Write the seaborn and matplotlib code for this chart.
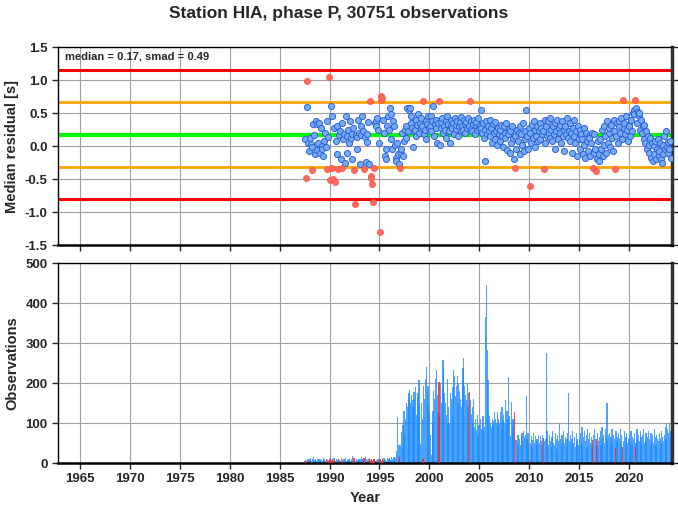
import numpy as np
import matplotlib
matplotlib.use("Agg")
import matplotlib.pyplot as plt
import pandas as pd
import seaborn as sns

# monthly medians of residuals, from 1987-07 to 2024-03
residual = [
    0.10, -0.49, 0.98, 0.59, 0.05, -0.08,  # 1987 (Jul-Dec)
    0.12, 0.03, -0.37, -0.02, 0.33, 0.17, -0.12, 0.38, -0.06, 0.33, 0.04, 0.35,  # 1988
    -0.10, 0.28, 0.00, -0.05, -0.15, 0.07, 0.20, -0.02, -0.35, 0.38, 0.13, 1.04,  # 1989
    -0.51, 0.60, 0.46, -0.33, -0.50, 0.28, -0.55, 0.08, 0.30, -0.12, -0.35, 0.16,  # 1990
    0.22, -0.20, 0.35, -0.33, 0.10, 0.18, -0.25, 0.45, 0.15, -0.10, 0.25, 0.05,  # 1991
    0.38, 0.12, -0.20, 0.18, 0.27, -0.36, -0.88, 0.17, -0.05, 0.14, 0.40, 0.20,  # 1992
    -0.27, 0.16, 0.30, 0.45, 0.22, -0.35, 0.14, -0.24, 0.06, 0.18, 0.37, -0.28,  # 1993
    0.68, -0.46, -0.49, -0.58, -0.85, -0.33, 0.35, 0.38, 0.30, 0.42, 0.25, 0.05,  # 1994
    -1.31, 0.76, 0.70, 0.73, 0.40, 0.20, -0.15, -0.20, -0.05, 0.30, 0.45, 0.25,  # 1995
    0.57, 0.10, 0.48, -0.05, 0.38, 0.30, 0.02, -0.18, -0.22, 0.05, -0.12, -0.28,  # 1996
    -0.34, -0.10, -0.05, 0.20, -0.15, 0.08, 0.25, 0.12, 0.30, 0.57, 0.22, 0.55,  # 1997
    0.57, 0.46, 0.35, 0.28, -0.01, 0.22, 0.25, 0.40, 0.15, 0.32, 0.48, 0.20,  # 1998
    0.35, 0.28, 0.42, 0.30, 0.68, 0.18, 0.25, 0.38, 0.10, 0.33, 0.45, 0.27,  # 1999
    0.30, 0.22, 0.45, 0.38, 0.60, 0.15, 0.33, 0.28, 0.40, 0.05, 0.35, 0.68,  # 2000
    0.02, 0.28, 0.36, 0.42, 0.20, 0.30, 0.25, 0.38, 0.12, 0.45, 0.33, 0.22,  # 2001
    0.05, 0.30, 0.40, 0.28, 0.35, 0.18, 0.42, 0.26, 0.32, 0.38, 0.15, 0.30,  # 2002
    0.36, 0.22, 0.44, 0.30, 0.25, 0.40, 0.33, 0.20, 0.37, 0.28, 0.43, 0.31,  # 2003
    0.68, 0.26, 0.38, 0.22, 0.34, 0.40, 0.18, 0.30, 0.36, 0.24, 0.42, 0.28,  # 2004
    0.30, 0.55, 0.28, 0.20, 0.35, 0.12, 0.25, -0.23, 0.38, 0.18, 0.30, 0.22,  # 2005
    0.40, 0.15, 0.27, 0.05, 0.33, 0.20, 0.10, 0.36, 0.22, 0.02, 0.28, 0.18,  # 2006
    0.25, 0.08, 0.32, 0.15, -0.02, 0.30, 0.20, 0.12, 0.35, -0.06, 0.18, 0.26,  # 2007
    -0.10, 0.22, 0.05, 0.30, 0.12, -0.20, -0.34, 0.15, -0.05, 0.25, 0.08, 0.20,  # 2008
    0.30, -0.12, 0.18, 0.02, 0.35, -0.08, 0.22, 0.10, 0.55, 0.15, -0.05, 0.28,  # 2009
    -0.61, 0.20, 0.05, 0.32, 0.12, 0.38, -0.02, 0.25, 0.15, 0.30, 0.08, 0.22,  # 2010
    0.35, 0.10, 0.28, 0.18, 0.22, -0.35, 0.40, 0.05, 0.30, 0.15, 0.38, 0.20,  # 2011
    0.12, 0.42, 0.25, 0.08, 0.30, 0.18, 0.35, -0.05, 0.22, 0.40, 0.10, 0.28,  # 2012
    0.20, 0.32, 0.05, 0.38, 0.15, 0.25, -0.08, 0.30, 0.18, 0.42, 0.12, 0.22,  # 2013
    0.08, 0.35, 0.20, -0.10, 0.28, 0.15, 0.40, 0.05, 0.22, -0.15, 0.30, 0.10,  # 2014
    0.25, -0.05, 0.18, 0.10, -0.12, 0.28, 0.02, -0.18, 0.20, 0.08, -0.08, 0.15,  # 2015
    0.12, -0.15, 0.05, 0.20, -0.34, -0.10, 0.18, -0.05, -0.38, -0.20, 0.08, -0.12,  # 2016
    -0.22, 0.10, -0.05, 0.25, -0.15, 0.30, 0.02, 0.15, -0.10, 0.38, 0.05, 0.20,  # 2017
    0.28, -0.02, 0.32, 0.12, -0.08, 0.22, 0.40, -0.35, 0.15, 0.35, 0.05, 0.30,  # 2018
    0.38, 0.20, 0.42, 0.10, 0.70, 0.28, 0.35, 0.18, 0.45, 0.25, 0.08, 0.32,  # 2019
    0.30, 0.15, 0.40, 0.22, 0.50, 0.55, 0.48, 0.69, 0.58, 0.35, 0.52, 0.45,  # 2020
    0.50, 0.25, 0.40, 0.20, 0.30, 0.10, 0.32, 0.05, 0.22, -0.05, 0.15, 0.02,  # 2021
    -0.10, 0.12, -0.18, 0.05, -0.22, 0.00, -0.12, 0.08, -0.20, -0.05, 0.10, -0.15,  # 2022
    -0.08, 0.05, -0.20, -0.25, 0.02, -0.12, 0.15, -0.05, 0.22, -0.02, 0.06, -0.10,  # 2023
    -0.05, 0.08, -0.18,  # 2024 (Jan-Mar)
]

# observations per month, same months
observations = [
    5, 8, 6, 10, 4, 9,  # 1987
    7, 12, 5, 9, 14, 6, 8, 11, 4, 10, 7, 9,  # 1988
    6, 10, 8, 5, 12, 7, 9, 4, 11, 8, 6, 5,  # 1989
    9, 14, 7, 10, 6, 12, 8, 5, 11, 7, 9, 6,  # 1990
    8, 5, 12, 7, 10, 4, 9, 13, 6, 8, 11, 7,  # 1991
    10, 6, 9, 18, 8, 12, 7, 5, 10, 8, 6, 11,  # 1992
    7, 9, 15, 10, 6, 12, 8, 14, 9, 7, 11, 6,  # 1993
    12, 8, 10, 6, 9, 11, 7, 5, 8, 10, 6, 9,  # 1994
    8, 10, 6, 9, 5, 12, 10, 8, 5, 12, 8, 10,  # 1995
    12, 8, 15, 10, 6, 14, 10, 12, 30, 116, 20, 45,  # 1996
    16, 45, 78, 40, 95, 130, 70, 110, 150, 140, 160, 175,  # 1997
    183, 150, 170, 158, 140, 178, 160, 190, 120, 165, 175, 207,  # 1998
    140, 47, 150, 110, 10, 192, 160, 210, 241, 180, 192, 150,  # 1999
    125, 70, 20, 103, 130, 180, 160, 210, 233, 170, 125, 203,  # 2000
    118, 200, 150, 190, 258, 233, 175, 150, 120, 210, 100, 140,  # 2001
    100, 175, 160, 120, 190, 233, 217, 167, 192, 217, 150, 200,  # 2002
    180, 160, 140, 210, 237, 263, 192, 170, 158, 200, 140, 175,  # 2003
    178, 158, 122, 140, 100, 160, 90, 110, 83, 120, 67, 95,  # 2004
    95, 110, 85, 100, 118, 83, 90, 366, 445, 283, 207, 120,  # 2005
    118, 100, 90, 110, 95, 105, 127, 110, 100, 127, 95, 110,  # 2006
    100, 127, 85, 140, 105, 120, 100, 158, 95, 130, 110, 216,  # 2007
    117, 67, 153, 90, 110, 100, 128, 58, 58, 50, 70, 42,  # 2008
    60, 45, 67, 75, 55, 80, 65, 70, 167, 60, 75, 50,  # 2009
    5, 50, 67, 42, 58, 75, 50, 67, 55, 60, 45, 70,  # 2010
    50, 67, 55, 45, 70, 62, 55, 60, 274, 80, 60, 45,  # 2011
    70, 55, 40, 65, 80, 50, 45, 75, 60, 35, 70, 55,  # 2012
    100, 60, 45, 70, 55, 80, 50, 65, 40, 60, 75, 174,  # 2013
    55, 70, 45, 60, 80, 50, 65, 40, 75, 55, 60, 45,  # 2014
    60, 75, 50, 90, 45, 65, 80, 55, 70, 40, 85, 60,  # 2015
    75, 50, 65, 45, 57, 70, 85, 60, 60, 45, 75, 55,  # 2016
    65, 80, 45, 90, 60, 70, 50, 85, 65, 150, 55, 70,  # 2017
    75, 50, 65, 85, 45, 70, 60, 37, 80, 55, 65, 75,  # 2018
    60, 85, 50, 70, 40, 55, 80, 45, 65, 75, 50, 60,  # 2019
    70, 55, 80, 45, 65, 60, 75, 40, 50, 85, 60, 70,  # 2020
    55, 80, 65, 45, 70, 85, 50, 60, 75, 55, 65, 80,  # 2021
    60, 45, 75, 55, 70, 50, 85, 65, 45, 70, 60, 55,  # 2022
    75, 60, 50, 80, 65, 55, 70, 90, 60, 100, 85, 75,  # 2023
    100, 80, 65,  # 2024
]

median = 0.17
smad = 0.49

months = pd.date_range("1987-07-01", periods=len(residual), freq="MS") + pd.Timedelta(days=14)
df = pd.DataFrame({
    "year": months.year + (months.dayofyear - 1) / 365.25,
    "residual": residual,
    "observations": observations,
})
df["outlier"] = (df["residual"] - median).abs() > smad

sns.set_style("ticks")
plt.rcParams["font.family"] = ["Liberation Sans", "DejaVu Sans"]
plt.rcParams["font.weight"] = "bold"

fig = plt.figure(figsize=(6.78, 5.11), dpi=100)
ax1 = fig.add_axes([0.0855, 0.5205, 0.9056, 0.3875])
ax2 = fig.add_axes([0.0855, 0.0939, 0.9056, 0.3914])

xlim = (1962.8, 2024.3)
grid_kw = dict(color="#a0a0a0", lw=0.8)

for ax in (ax1, ax2):
    ax.set_xlim(*xlim)
    ax.set_xticks(np.arange(1965, 2021, 5))
    ax.grid(True, **grid_kw)
    ax.set_axisbelow(True)
    for s in ax.spines.values():
        s.set_linewidth(1.0)
        s.set_color("black")
    ax.spines["right"].set_linewidth(2.5)
    ax.spines["right"].set_color("#333333")
    ax.spines["bottom"].set_linewidth(1.8)
    ax.tick_params(labelsize=9.5, width=1, length=4, right=True, top=False)

# top panel
ax1.axhline(median + 2 * smad, color="#ff0000", lw=2.2, zorder=2)
ax1.axhline(median - 2 * smad, color="#ff0000", lw=2.2, zorder=2)
ax1.axhline(median + smad, color="#ffa500", lw=2.0, zorder=2)
ax1.axhline(median - smad, color="#ffa500", lw=2.0, zorder=2)
ax1.axhline(median, color="#00ff00", lw=3.0, zorder=2)

sns.scatterplot(data=df[~df["outlier"]], x="year", y="residual", ax=ax1,
                color="#75aef0", edgecolor="#2f5fe0", linewidth=0.7, s=19, zorder=3)
sns.scatterplot(data=df[df["outlier"]], x="year", y="residual", ax=ax1,
                color="#ff6b60", edgecolor="#ff4a40", linewidth=0.5, s=19, zorder=3)
ax1.set_ylim(-1.5, 1.5)
ax1.set_yticks(np.arange(-1.5, 1.51, 0.5))
ax1.set_yticklabels([f"{v:.1f}" for v in np.arange(-1.5, 1.51, 0.5)])
ax1.set_xticklabels([])
ax1.set_xlabel("")
ax1.set_ylabel("Median residual [s]", fontsize=10.5, fontweight="bold")
ax1.text(0.011, 0.975, "median = %.2f, smad = %.2f" % (median, smad),
         transform=ax1.transAxes, ha="left", va="top", fontsize=8,
         fontweight="bold")

# bottom panel
normal = df[~df["outlier"]]
bad = df[df["outlier"]]
ax2.bar(normal["year"], normal["observations"], width=0.12, color="#1e8cff",
        alpha=0.8, linewidth=0, zorder=2)
ax2.bar(bad["year"], bad["observations"], width=0.12, color="#ff2020",
        alpha=0.85, linewidth=0, zorder=3)
ax2.set_ylim(0, 500)
ax2.set_yticks(np.arange(0, 501, 100))
ax2.set_xlabel("Year", fontsize=10.5, fontweight="bold")
ax2.set_ylabel("Observations", fontsize=10.5, fontweight="bold")

fig.suptitle("Station HIA, phase P, %d observations" % 30751, y=0.988,
             fontsize=12.5, fontweight="bold")

fig.savefig("out.png", dpi=100)
